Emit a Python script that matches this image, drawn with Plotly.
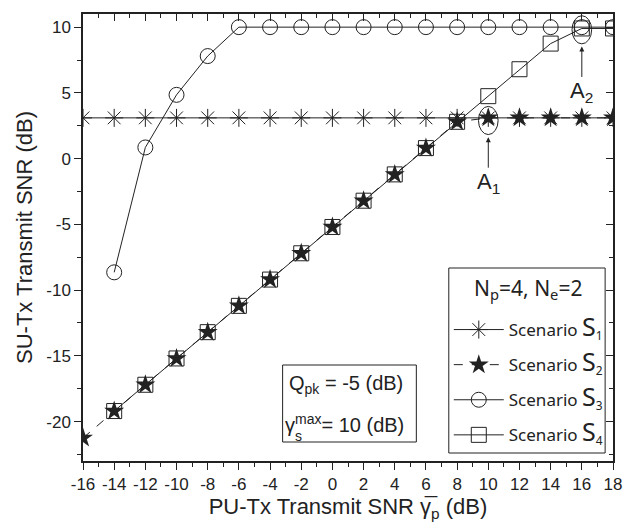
import plotly.graph_objects as go

# ---- data ----
x_all = [-16, -14, -12, -10, -8, -6, -4, -2, 0, 2, 4, 6, 8, 10, 12, 14, 16, 18]
s1_y = [3.1] * 18
s2_y = [-21.25, -19.2, -17.2, -15.2, -13.2, -11.2, -9.2, -7.2, -5.2, -3.2, -1.2, 0.8, 2.8,
        3.1, 3.1, 3.1, 3.1, 3.1]
s3_x = [-14, -12, -10, -8, -6, -4, -2, 0, 2, 4, 6, 8, 10, 12, 14, 16, 18]
s3_y = [-8.65, 0.85, 4.85, 7.8, 10, 10, 10, 10, 10, 10, 10, 10, 10, 10, 10, 10, 10]
s4_x = [-14, -12, -10, -8, -6, -4, -2, 0, 2, 4, 6, 8, 10, 12, 14, 16, 18]
s4_y = [-19.2, -17.2, -15.2, -13.2, -11.2, -9.2, -7.2, -5.2, -3.2, -1.2, 0.8, 2.8,
        4.75, 6.8, 8.75, 9.9, 9.9]
x_ticks = [-16, -14, -12, -10, -8, -6, -4, -2, 0, 2, 4, 6, 8, 10, 12, 14, 16, 18]
x_ticktext = ["-16", "-14", "-12", "-10", "-8", "-6", "-4", "-2", "0", "2", "4", "6", "8",
              "10", "12", "14", "16", "18"]
y_ticks = [-20, -15, -10, -5, 0, 5, 10]
y_ticktext = ["-20", "-15", "-10", "-5", "0", "5", "10"]
names = ["Scenario <span style='font-size:25px'>S</span><sub>1</sub>",
         "Scenario <span style='font-size:25px'>S</span><sub>2</sub>",
         "Scenario <span style='font-size:25px'>S</span><sub>3</sub>",
         "Scenario <span style='font-size:25px'>S</span><sub>4</sub>"]
legend_title = "N<sub>p</sub>=4, N<sub>e</sub>=2"

INK = "#222222"
fig = go.Figure()
fig.add_trace(go.Scatter(x=x_all, y=s1_y, name=names[0], mode="lines+markers",
                         line=dict(color=INK, width=1),
                         marker=dict(symbol="asterisk-open", size=15, line=dict(color=INK, width=1)),
                         legendgroup="1"))
fig.add_trace(go.Scatter(x=x_all, y=s2_y, name=names[1], mode="lines+markers",
                         line=dict(color=INK, width=1, dash="dash"),
                         marker=dict(symbol="star", size=15, color=INK, line=dict(width=0)),
                         legendgroup="2"))
fig.add_trace(go.Scatter(x=s3_x, y=s3_y, name=names[2], mode="lines+markers",
                         line=dict(color=INK, width=1),
                         marker=dict(symbol="circle-open", size=15, line=dict(color=INK, width=1)),
                         legendgroup="3"))
fig.add_trace(go.Scatter(x=s4_x, y=s4_y, name=names[3], mode="lines+markers",
                         line=dict(color=INK, width=1),
                         marker=dict(symbol="square-open", size=15, line=dict(color="#333333", width=1)),
                         legendgroup="4"))
# dummy trace for mirrored axes
fig.add_trace(go.Scatter(x=[0], y=[0], xaxis="x2", yaxis="y2", mode="markers",
                         marker=dict(opacity=0), showlegend=False, hoverinfo="skip"))

FAM = "Liberation Sans, Arial, sans-serif"
tickfont = dict(family=FAM, size=17, color="#222")
XR = [-16, 18]
YR = [-23, 11]


def px2x(px):
    return (px - 83) / 539.0


def py2y(py):
    return (461 - py) / 447.0


fig.update_layout(
    width=633, height=526,
    margin=dict(l=83, r=11, t=14, b=65),
    plot_bgcolor="white", paper_bgcolor="white",
    showlegend=True,
    xaxis=dict(range=XR, tickvals=x_ticks, ticktext=x_ticktext, ticks="outside", ticklen=7,
               tickwidth=1, tickcolor=INK, showline=True, linecolor=INK, linewidth=1.5,
               showgrid=False, zeroline=False, tickfont=tickfont,
               minor=dict(dtick=1, ticks="outside", ticklen=4, tickcolor=INK),
               title=dict(text="PU-Tx Transmit SNR γ\u0305<sub>p</sub> (dB)",
                          font=dict(family=FAM, size=22, color="#222"), standoff=4)),
    yaxis=dict(range=YR, tickvals=y_ticks, ticktext=y_ticktext, ticks="outside", ticklen=7,
               tickwidth=1, tickcolor=INK, showline=True, linecolor=INK, linewidth=1.5,
               showgrid=False, zeroline=False, tickfont=tickfont,
               minor=dict(dtick=2.5, tick0=0, ticks="outside", ticklen=4, tickcolor=INK),
               title=dict(text="SU-Tx Transmit SNR (dB)",
                          font=dict(family=FAM, size=22, color="#222"), standoff=8)),
    xaxis2=dict(range=XR, overlaying="x", side="top", dtick=2, tick0=0, ticks="inside",
                ticklen=7, tickcolor=INK, showline=True, linecolor=INK, linewidth=1.5,
                showgrid=False, zeroline=False, showticklabels=False,
                minor=dict(dtick=1, ticks="inside", ticklen=4, tickcolor=INK)),
    yaxis2=dict(range=YR, overlaying="y", side="right", dtick=5, tick0=0, ticks="inside",
                ticklen=7, tickcolor=INK, showline=True, linecolor=INK, linewidth=1.5,
                showgrid=False, zeroline=False, showticklabels=False,
                minor=dict(dtick=2.5, tick0=0, ticks="inside", ticklen=4, tickcolor=INK)),
    legend=dict(x=px2x(455), y=py2y(453), xanchor="left", yanchor="bottom",
                bgcolor="rgba(0,0,0,0)", borderwidth=0,
                font=dict(family="Noto Sans, sans-serif", size=17, color="#222"),
                traceorder="grouped", tracegroupgap=10, itemwidth=50),
)

# legend frame and title
fig.add_shape(type="rect", xref="paper", yref="paper", x0=px2x(455), x1=px2x(614),
              y0=py2y(453), y1=py2y(268), line=dict(color=INK, width=1), fillcolor="white",
              layer="above")
fig.add_annotation(xref="paper", yref="paper", x=px2x(536), y=py2y(289), xanchor="center",
                   yanchor="middle", text=legend_title, showarrow=False,
                   font=dict(family="Noto Sans, sans-serif", size=21, color="#222"))

# ---- ellipses around A1 and A2 ----
i1 = x_all.index(10)
i2 = s4_x.index(16)
c1 = (x_all[i1], s2_y[i1] - 0.2)
c2 = (s4_x[i2], s4_y[i2] - 0.1)
rx, ry = 0.63, 1.07
for cx, cy in (c1, c2):
    fig.add_shape(type="circle", xref="x", yref="y", x0=cx - rx, x1=cx + rx,
                  y0=cy - ry, y1=cy + ry, line=dict(color=INK, width=1))

afont = dict(family=FAM, size=22, color="#222")
for (cx, cy), lab in ((c1, "A<sub>1</sub>"), (c2, "A<sub>2</sub>")):
    fig.add_annotation(x=cx, y=cy - ry - 0.2, xref="x", yref="y", text=lab,
                       showarrow=True, arrowhead=2, arrowsize=1, arrowwidth=1,
                       arrowcolor=INK, ax=0, ay=46, font=afont)

# ---- parameter box ----
fig.add_shape(type="rect", xref="paper", yref="paper", x0=px2x(286), x1=px2x(422),
              y0=py2y(442), y1=py2y(365), line=dict(color=INK, width=1), fillcolor="white",
              layer="above")
bfont = dict(family=FAM, size=20, color="#222")
fig.add_annotation(xref="paper", yref="paper", x=px2x(290), y=py2y(384), xanchor="left",
                   yanchor="middle", text="Q<sub>pk</sub> = -5 (dB)", showarrow=False, font=bfont)
fig.add_annotation(xref="paper", yref="paper", x=px2x(286), y=py2y(423), xanchor="left",
                   yanchor="middle", text="γ<sup>max</sup>= 10 (dB)", showarrow=False, font=bfont)
fig.add_annotation(xref="paper", yref="paper", x=px2x(297), y=py2y(436), xanchor="left",
                   yanchor="middle", text="s", showarrow=False,
                   font=dict(family=FAM, size=14, color="#222"))

fig.write_html("out.html")
